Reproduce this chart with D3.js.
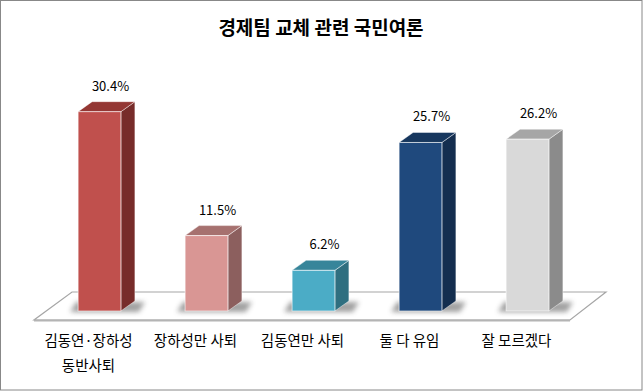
<!DOCTYPE html>
<html>
<head>
<meta charset="utf-8">
<script src="https://cdn.jsdelivr.net/npm/d3@7"></script>
<style>
  html, body { margin: 0; padding: 0; background: #fff; }
  text { font-family: "Noto Sans CJK KR", "Noto Sans", sans-serif; }
</style>
</head>
<body>
<div id="chart"></div>
<script>
// data
const categories = ['김동연·장하성 동반사퇴', '장하성만 사퇴', '김동연만 사퇴', '둘 다 유임', '잘 모르겠다'];
const labelLines = [['김동연·장하성', '동반사퇴'], ['장하성만 사퇴'], ['김동연만 사퇴'], ['둘 다 유임'], ['잘 모르겠다']];
const values = [30.4, 11.5, 6.2, 25.7, 26.2];
const title = '경제팀 교체 관련 국민여론';

// per-bar palette (front / top / side)
const frontColors = ['#C0504D', '#D99694', '#4BACC6', '#1F497D', '#D9D9D9'];
const topColors = ['#943734', '#A6716F', '#37859A', '#17375E', '#A6A6A6'];
const sideColors = ['#772C2A', '#8C5F5E', '#2F6F80', '#142E4F', '#8B8B8B'];

const width = 643;
const height = 391;
const depthX = 14;
const depthY = -10;
const baseY = 311;

const svg = d3.select('#chart').append('svg')
  .attr('width', width)
  .attr('height', height);

const defs = svg.append('defs');
defs.append('filter')
  .attr('id', 'shadowBlur')
  .attr('x', '-50%').attr('y', '-50%').attr('width', '200%').attr('height', '200%')
  .append('feGaussianBlur')
  .attr('stdDeviation', 2.5);

// outer frame
svg.append('rect')
  .attr('x', 0.5).attr('y', 0.5)
  .attr('width', width - 1.5).attr('height', height - 1.5)
  .attr('fill', '#fff')
  .attr('stroke', '#888')
  .attr('stroke-width', 1);

svg.append('text')
  .attr('x', 321)
  .attr('y', 35)
  .attr('text-anchor', 'middle')
  .attr('font-size', '19px')
  .attr('font-weight', 'bold')
  .attr('fill', '#000')
  .text(title);

const x = d3.scaleBand()
  .domain(categories)
  .range([46, 581])
  .paddingInner(0.6)
  .paddingOuter(0.3);

const y = d3.scaleLinear()
  .domain([0, 35])
  .range([baseY, 81.5]);

// floor
const floorPts = [[34, 320], [570, 320], [606, 292], [72, 292]];
svg.append('polygon')
  .attr('points', floorPts.map(p => p.join(',')).join(' '))
  .attr('fill', '#fff')
  .attr('stroke', '#A6A6A6')
  .attr('stroke-width', 1.2);
svg.append('line')
  .attr('x1', 34).attr('y1', 320.5).attr('x2', 570).attr('y2', 320.5)
  .attr('stroke', '#B4B4B4')
  .attr('stroke-width', 2.2);

const bars = svg.append('g')
  .selectAll('g')
  .data(categories)
  .join('g');

// soft shadow on the floor behind each bar
bars.append('polygon')
  .attr('points', d => {
    const x0 = x(d) - 8, x1 = x(d) + x.bandwidth() + depthX + 10;
    return [[x0, baseY + 1], [x1 - 6, baseY + 1], [x1, baseY - 9], [x0 + 6, baseY - 9]]
      .map(p => p.join(',')).join(' ');
  })
  .attr('fill', '#555')
  .attr('opacity', 0.55)
  .attr('filter', 'url(#shadowBlur)');

const pts = a => a.map(p => p.join(',')).join(' ');

// side face
bars.append('polygon')
  .attr('points', (d, i) => {
    const xr = x(d) + x.bandwidth(), yt = y(values[i]);
    return pts([[xr, yt], [xr + depthX, yt + depthY], [xr + depthX, baseY + depthY], [xr, baseY]]);
  })
  .attr('fill', (d, i) => sideColors[i])
  .attr('stroke', 'rgba(255,255,255,0.55)')
  .attr('stroke-width', 0.8);

// top face
bars.append('polygon')
  .attr('points', (d, i) => {
    const xl = x(d), xr = x(d) + x.bandwidth(), yt = y(values[i]);
    return pts([[xl, yt], [xl + depthX, yt + depthY], [xr + depthX, yt + depthY], [xr, yt]]);
  })
  .attr('fill', (d, i) => topColors[i])
  .attr('stroke', 'rgba(255,255,255,0.55)')
  .attr('stroke-width', 0.8);

// front face
bars.append('rect')
  .attr('x', d => x(d))
  .attr('y', (d, i) => y(values[i]))
  .attr('width', x.bandwidth())
  .attr('height', (d, i) => baseY - y(values[i]))
  .attr('fill', (d, i) => frontColors[i])
  .attr('stroke', 'rgba(255,255,255,0.6)')
  .attr('stroke-width', 1);

// value labels
bars.append('text')
  .attr('x', d => x(d) + x.bandwidth() / 2 + 11)
  .attr('y', (d, i) => y(values[i]) + depthY - 11)
  .attr('text-anchor', 'middle')
  .attr('font-family', '"Noto Sans", sans-serif')
  .attr('font-size', '13px')
  .attr('fill', '#000')
  .text((d, i) => values[i].toFixed(1) + '%');

// category labels along the front edge of the floor
const catText = bars.append('text')
  .attr('text-anchor', 'middle')
  .attr('font-size', '14.5px')
  .attr('fill', '#000');
catText.selectAll('tspan')
  .data((d, i) => labelLines[i].map(t => ({t, d})))
  .join('tspan')
  .attr('x', o => x(o.d) + x.bandwidth() / 2 - 11)
  .attr('y', (o, j) => 346 + j * 25)
  .text(o => o.t);
</script>
</body>
</html>
